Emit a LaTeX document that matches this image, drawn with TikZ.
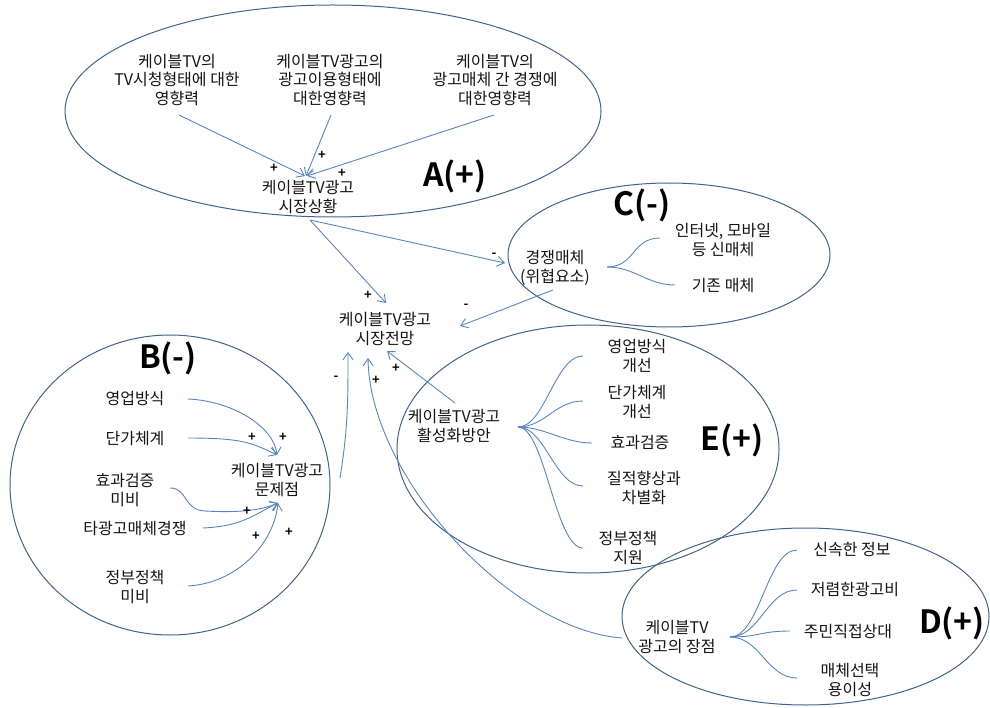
\documentclass[tikz,border=0pt]{standalone}
\usepackage{fontspec}
\setmainfont{Noto Sans CJK KR}[BoldFont={Noto Sans CJK KR Bold}]
\usetikzlibrary{arrows.meta}
\definecolor{ringc}{RGB}{66,98,142}
\definecolor{linec}{RGB}{88,132,194}
\definecolor{txtc}{RGB}{20,20,20}
\begin{document}
\begin{tikzpicture}[x=1pt,y=-1pt,
  ring/.style={draw=ringc,line width=1pt},
  txt/.style={font=\fontsize{16}{18.3}\selectfont,text=txtc,align=center,inner sep=1pt},
  lbl/.style={font=\fontsize{32}{34}\selectfont\bfseries,text=black,inner sep=0pt},
  sgn/.style={font=\fontsize{13}{13}\selectfont\bfseries,text=black,inner sep=0pt},
  arr/.style={draw=linec,line width=0.9pt,-{Straight Barb[length=7pt,width=10pt]}},
  br/.style={draw=linec,line width=0.9pt}]
\useasboundingbox (0,0) rectangle (990,708);

% ellipses
\draw[ring] (333,111) ellipse [x radius=268pt, y radius=106pt];
\draw[ring] (669,255) ellipse [x radius=161pt, y radius=72pt];
\draw[ring] (170,485) ellipse [x radius=160pt, y radius=150pt];
\draw[ring] (588,449) ellipse [x radius=191pt, y radius=124pt];
\draw[ring] (805.5,616.5) ellipse [x radius=183.5pt, y radius=88.5pt];

% A
\node[txt] (a1) at (177,80) {케이블TV의\\TV시청형태에 대한\\영향력};
\node[txt] (a2) at (330,80) {케이블TV광고의\\광고이용형태에\\대한영향력};
\node[txt] (a3) at (495,80) {케이블TV의\\광고매체 간 경쟁에\\대한영향력};
\node[txt] (as) at (308,197) {케이블TV광고\\시장상황};
\node[lbl] (la) at (455,176) {A(+)};

% C
\node[txt] (cc) at (555,268) {경쟁매체\\(위협요소)};
\node[txt] (c1) at (723,240) {인터넷, 모바일\\등 신매체};
\node[txt] (c2) at (723,286) {기존 매체};
\node[lbl] (lc) at (642,205) {C(-)};

% center
\node[txt] (sp) at (385,329) {케이블TV광고\\시장전망};

% B
\node[lbl] (lb) at (168,358) {B(-)};
\node[txt] (b1) at (135,399) {영업방식};
\node[txt] (b2) at (135,439) {단가체계};
\node[txt] (b3) at (125,490) {효과검증\\미비};
\node[txt] (b4) at (135,529) {타광고매체경쟁};
\node[txt] (b5) at (135,587) {정부정책\\미비};
\node[txt] (bp) at (277,480) {케이블TV광고\\문제점};

% E
\node[txt] (ep) at (454,426) {케이블TV광고\\활성화방안};
\node[txt] (e1) at (637,356) {영업방식\\개선};
\node[txt] (e2) at (637,402) {단가체계\\개선};
\node[txt] (e3) at (640,443) {효과검증};
\node[txt] (e4) at (644,488) {질적향상과\\차별화};
\node[txt] (e5) at (628,548) {정부정책\\지원};
\node[lbl] (le) at (732,440) {E(+)};

% D
\node[txt] (dp) at (677,637) {케이블TV\\광고의 장점};
\node[txt] (d1) at (852,550) {신속한 정보};
\node[txt] (d2) at (855,590) {저렴한광고비};
\node[txt] (d3) at (848,632) {주민직접상대};
\node[txt] (d4) at (850,680) {매체선택\\용이성};
\node[lbl] (ld) at (952,623) {D(+)};

% A arrows
\draw[arr] ([shift={(2,35)}]a1.center) -- ([shift={(-3,-21)}]as.center);
\draw[arr] ([shift={(1,35)}]a2.center) -- ([shift={(-2,-21)}]as.center);
\draw[arr] ([shift={(-1,35)}]a3.center) -- ([shift={(-1,-21)}]as.center);

% main arrows
\draw[arr] ([shift={(2,23)}]as.center) -- ([shift={(-50,-5)}]cc.center);
\draw[arr] ([shift={(2,23)}]as.center) -- ([shift={(1,-26)}]sp.center);
\draw[arr] ([shift={(-2,22)}]cc.center) -- ([shift={(75,-3)}]sp.center);
\draw[arr] ([shift={(63,-2)}]bp.center) .. controls +(8,-50) and +(0,50) .. ([shift={(-37,23)}]sp.center);
\draw[arr] ([shift={(1,-23)}]ep.center) -- ([shift={(2,22)}]sp.center);
\draw[arr] ([shift={(-55,1)}]dp.center) .. controls +(-110,-8) and +(2,120) .. ([shift={(-17,29)}]sp.center);

% B arrows
\draw[arr] ([shift={(53,0)}]b1.center) .. controls +(45,2) and +(-3,-28) .. ([shift={(0,-25)}]bp.center);
\draw[arr] ([shift={(53,-1)}]b2.center) .. controls +(55,0) and +(-25,-12) .. ([shift={(0,-25)}]bp.center);
\draw[arr] ([shift={(45,-2)}]b3.center) .. controls +(18,0) and +(-22,-1) .. (205,511) .. controls +(35,2) and +(-16,7) .. ([shift={(1,23)}]bp.center);
\draw[arr] ([shift={(68,-1)}]b4.center) .. controls +(40,-2) and +(-25,12) .. ([shift={(1,23)}]bp.center);
\draw[arr] ([shift={(53,-1)}]b5.center) .. controls +(50,-3) and +(-4,40) .. ([shift={(1,23)}]bp.center);

% C branches
\draw[br] ([shift={(52,-1)}]cc.center) .. controls +(28,0) and +(-28,0) .. ([shift={(-63,-2)}]c1.center);
\draw[br] ([shift={(52,-1)}]cc.center) .. controls +(28,0) and +(-28,0) .. ([shift={(-48,-1)}]c2.center);

% E branches
\foreach \n/\dx/\dy in {e1/-54/0,e2/-54/-1,e3/-48/0,e4/-61/-2,e5/-45/0}
  \draw[br] ([shift={(64,1)}]ep.center) .. controls +(27,0) and +(-28,0) .. ([shift={(\dx,\dy)}]\n.center);

% D branches
\foreach \n/\dx/\dy in {d1/-55/0,d2/-58/0,d3/-58/-1,d4/-53/-2}
  \draw[br] ([shift={(53,0)}]dp.center) .. controls +(30,0) and +(-30,0) .. ([shift={(\dx,\dy)}]\n.center);

% signs
\node[sgn] (s1) at (274,168) {+};
\node[sgn] (s2) at (322,155) {+};
\node[sgn] (s3) at (342,173) {+};
\node[sgn] (s4) at (368,295) {+};
\node[sgn] (s5) at (494,255) {-};
\node[sgn] (s6) at (466,306) {-};
\node[sgn] (s7) at (336,378) {-};
\node[sgn] (s8) at (376,380) {+};
\node[sgn] (s9) at (396,368) {+};
\node[sgn] (s10) at (252,437) {+};
\node[sgn] (s11) at (283,437) {+};
\node[sgn] (s12) at (247,511) {+};
\node[sgn] (s13) at (256,536) {+};
\node[sgn] (s14) at (289,532) {+};
\end{tikzpicture}
\end{document}
